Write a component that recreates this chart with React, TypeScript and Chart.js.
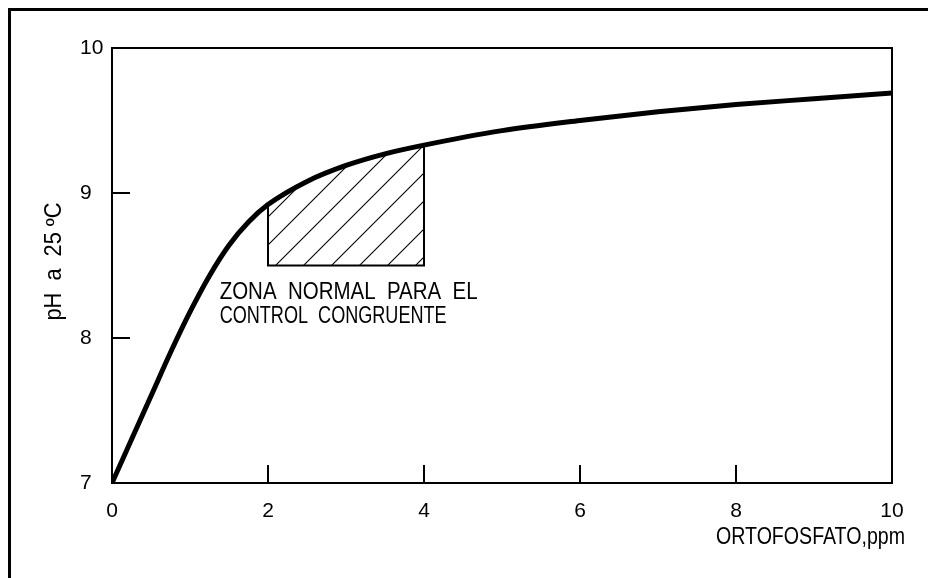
import React, { useEffect, useRef } from "react";
import { Chart, registerables } from "chart.js";

Chart.register(...registerables);

// ---- data ----
const phosphatePpm = [0, 0.25, 0.5, 0.75, 1, 1.25, 1.5, 1.75, 2, 2.5, 3, 3.5, 4, 5, 6, 7, 8, 9, 10];
const phAt25C = [7, 7.3, 7.6, 7.9, 8.18, 8.43, 8.64, 8.8, 8.92, 9.08, 9.19, 9.27, 9.33, 9.43, 9.5, 9.56, 9.61, 9.65, 9.69];
const zoneFrom = 2;
const zoneTo = 4;
const zoneFloor = 8.5;
const xTickValues = [0, 2, 4, 6, 8, 10];
const yTickValues = [7, 8, 9, 10];
const zoneLabel = ["ZONA  NORMAL  PARA  EL", "CONTROL  CONGRUENTE"];
const xTitle = "ORTOFOSFATO,ppm";
const yTitle = "pH  a  25 ºC";

const FONT = "'Liberation Sans', Arial, sans-serif";

function makeHatch(): CanvasPattern | string {
  const s = 28;
  const c = document.createElement("canvas");
  c.width = s;
  c.height = s;
  const g = c.getContext("2d");
  if (!g) return "rgba(0,0,0,0)";
  g.strokeStyle = "#000";
  g.lineWidth = 1.1;
  g.beginPath();
  g.moveTo(-2, s + 2);
  g.lineTo(s + 2, -2);
  g.moveTo(-2, 2);
  g.lineTo(2, -2);
  g.moveTo(s - 2, s + 2);
  g.lineTo(s + 2, s - 2);
  g.stroke();
  const p = g.createPattern(c, "repeat");
  if (!p) return "rgba(0,0,0,0)";
  try {
    p.setTransform(new DOMMatrix().translate(9, 0));
  } catch (e) {
    /* ignore */
  }
  return p;
}

// draw text squeezed horizontally to a given width (the original uses a narrow drafting font)
function fitText(ctx: CanvasRenderingContext2D, text: string, x: number, y: number, width: number, align: "left" | "right" | "center") {
  const w = ctx.measureText(text).width;
  const sx = width / w;
  ctx.save();
  ctx.translate(x, y);
  ctx.scale(sx, 1);
  ctx.textAlign = align;
  ctx.fillText(text, 0, 0);
  ctx.restore();
}

const decorPlugin = {
  id: "decor",
  afterDraw(chart: any) {
    const { ctx, chartArea, scales } = chart;
    const xs = scales.x;
    const ys = scales.y;
    ctx.save();
    ctx.strokeStyle = "#000";
    ctx.lineWidth = 2;
    // plot frame
    ctx.strokeRect(chartArea.left, chartArea.top, chartArea.right - chartArea.left, chartArea.bottom - chartArea.top);
    // inside ticks
    const tl = 18;
    ctx.beginPath();
    xTickValues.slice(1, -1).forEach((v) => {
      const px = Math.round(xs.getPixelForValue(v));
      ctx.moveTo(px, chartArea.bottom);
      ctx.lineTo(px, chartArea.bottom - tl);
    });
    yTickValues.slice(1, -1).forEach((v) => {
      const py = Math.round(ys.getPixelForValue(v));
      ctx.moveTo(chartArea.left, py);
      ctx.lineTo(chartArea.left + tl, py);
    });
    ctx.stroke();

    ctx.fillStyle = "#000";
    ctx.font = `23px ${FONT}`;
    ctx.textBaseline = "middle";
    // zone label
    const lx = xs.getPixelForValue(1.38);
    fitText(ctx, zoneLabel[0], lx, ys.getPixelForValue(8.31), 258, "left");
    fitText(ctx, zoneLabel[1], lx, ys.getPixelForValue(8.145), 227, "left");

    // x title
    fitText(ctx, xTitle, chartArea.right + 13, chartArea.bottom + 55, 189, "right");

    // y title
    ctx.translate(55, (chartArea.top + chartArea.bottom) / 2 - 4);
    ctx.rotate(-Math.PI / 2);
    fitText(ctx, yTitle, 0, 0, 118, "center");
    ctx.restore();
  },
};

export default function App() {
  const ref = useRef<HTMLCanvasElement | null>(null);

  useEffect(() => {
    const canvas = ref.current;
    if (!canvas) return;
    const curve = phosphatePpm.map((x, i) => ({ x, y: phAt25C[i] }));
    const zoneTop = curve.filter((p) => p.x >= zoneFrom && p.x <= zoneTo);
    const yAtFrom = zoneTop[0].y;
    const yAtTo = zoneTop[zoneTop.length - 1].y;
    const outline = [
      { x: zoneFrom, y: yAtFrom },
      { x: zoneFrom, y: zoneFloor },
      { x: zoneTo, y: zoneFloor },
      { x: zoneTo, y: yAtTo },
    ];

    const chart = new Chart(canvas, {
      type: "line",
      data: {
        datasets: [
          {
            data: curve,
            borderColor: "#000",
            borderWidth: 5,
            pointRadius: 0,
            fill: false,
            cubicInterpolationMode: "monotone",
            order: 0,
          },
          {
            data: outline,
            borderColor: "#000",
            borderWidth: 2,
            pointRadius: 0,
            fill: false,
            tension: 0,
            order: 1,
          },
          {
            data: zoneTop,
            borderWidth: 0,
            borderColor: "rgba(0,0,0,0)",
            backgroundColor: makeHatch() as any,
            pointRadius: 0,
            fill: { value: zoneFloor },
            cubicInterpolationMode: "monotone",
            order: 2,
          },
        ],
      },
      options: {
        animation: false,
        responsive: false,
        events: [],
        layout: { padding: { left: 80, top: 48, right: 36, bottom: 35 } },
        plugins: { legend: { display: false }, tooltip: { enabled: false } },
        scales: {
          x: {
            type: "linear",
            min: 0,
            max: 10,
            grid: { display: false },
            border: { display: false },
            afterFit: (s: any) => {
              s.height = 60;
            },
            afterBuildTicks: (s: any) => {
              s.ticks = xTickValues.map((v) => ({ value: v }));
            },
            ticks: {
              color: "#000",
              padding: 8,
              font: { family: FONT, size: 21 },
            },
          },
          y: {
            type: "linear",
            min: 7,
            max: 10,
            grid: { display: false },
            border: { display: false },
            afterFit: (s: any) => {
              s.width = 32;
            },
            afterBuildTicks: (s: any) => {
              s.ticks = yTickValues.map((v) => ({ value: v }));
            },
            ticks: {
              color: "#000",
              padding: 8,
              crossAlign: "far",
              font: { family: FONT, size: 21 },
            },
          },
        },
      },
      plugins: [decorPlugin],
    } as any);
    return () => chart.destroy();
  }, []);

  return (
    <>
      <div
        style={{
          position: "fixed",
          left: 8,
          top: 8,
          width: 960,
          height: 620,
          borderTop: "3px solid #000",
          borderLeft: "3px solid #000",
          pointerEvents: "none",
        }}
      />
      <canvas
        ref={ref}
        width={928}
        height={578}
        style={{ position: "fixed", left: 0, top: 0, width: 928, height: 578 }}
      />
    </>
  );
}
